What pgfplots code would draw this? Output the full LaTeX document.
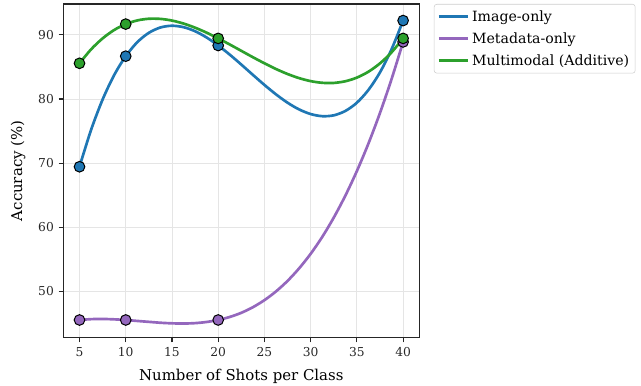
\documentclass[border=0pt]{standalone}
\usepackage{fontspec}
\setmainfont{DejaVu Serif}
\usepackage{pgfplots}
\pgfplotsset{compat=1.18}
\definecolor{tabblue}{HTML}{1F77B4}
\definecolor{tabpurple}{HTML}{9467BD}
\definecolor{tabgreen}{HTML}{2CA02C}

% marked results (shots, accuracy)
\pgfplotstableread{
x y
5 69.44
10 86.67
20 88.33
40 92.22
}\imgpts
\pgfplotstableread{
x y
5 45.56
10 45.56
20 45.56
40 88.89
}\metapts
\pgfplotstableread{
x y
5 85.56
10 91.67
20 89.44
40 89.44
}\multipts

% smooth curves as drawn in the chart, read along x
\pgfplotstableread{
x y
5 69.44
6.25 75.18
7.5 79.92
8.75 83.73
10 86.67
11.25 88.85
12.5 90.31
13.75 91.14
15 91.41
16.25 91.19
17.5 90.56
18.75 89.58
20 88.33
21.25 86.91
22.5 85.36
23.75 83.76
25 82.19
26.25 80.72
27.5 79.42
28.75 78.37
30 77.65
31.25 77.32
32.5 77.45
33.75 78.13
35 79.42
36.25 81.41
37.5 84.15
38.75 87.74
40 92.22
}\imgcurve
\pgfplotstableread{
x y
5 45.56
6.25 45.69
7.5 45.72
8.75 45.66
10 45.56
11.25 45.41
12.5 45.27
13.75 45.13
15 45.04
16.25 45.01
17.5 45.07
18.75 45.25
20 45.56
21.25 46.03
22.5 46.68
23.75 47.55
25 48.65
26.25 50.01
27.5 51.65
28.75 53.60
30 55.87
31.25 58.50
32.5 61.52
33.75 64.93
35 68.77
36.25 73.06
37.5 77.83
38.75 83.10
40 88.89
}\metacurve
\pgfplotstableread{
x y
5 85.56
6.25 87.73
7.5 89.44
8.75 90.75
10 91.67
11.25 92.24
12.5 92.50
13.75 92.48
15 92.22
16.25 91.75
17.5 91.11
18.75 90.33
20 89.44
21.25 88.49
22.5 87.50
23.75 86.51
25 85.56
26.25 84.67
27.5 83.89
28.75 83.25
30 82.78
31.25 82.52
32.5 82.50
33.75 82.76
35 83.33
36.25 84.25
37.5 85.55
38.75 87.27
40 89.44
}\multicurve

\begin{document}
\begin{tikzpicture}[x=1pt,y=1pt]
\path[use as bounding box] (-47.5,-35.5) rectangle (433.3,253.3);
\begin{axis}[
  at={(0,0)}, anchor=south west,
  scale only axis, width=267pt, height=250.3pt,
  xmin=3.25, xmax=41.75, ymin=42.8, ymax=94.8,
  xtick={5,10,15,20,25,30,35,40}, ytick={50,60,70,80,90},
  grid=major, grid style={black!10, line width=0.6pt},
  axis line style={black!85, line width=0.8pt},
  tick style={black!85, line width=0.8pt},
  tick align=outside, major tick length=3.6pt, tick pos=left,
  ticklabel style={font=\fontsize{9.2}{11}\selectfont, text=black!85},
  /pgf/number format/assume math mode=true,
  xlabel={Number of Shots per Class},
  ylabel={Accuracy (\%)},
  label style={font=\fontsize{11.2}{13}\selectfont},
  xlabel style={at={(axis description cs:0.5,-0.1147)}, anchor=center},
  ylabel style={at={(axis description cs:-0.127,0.5)}, anchor=center},
  legend style={at={(1.041,1.0)}, anchor=north west, draw=black!20,
    rounded corners=2pt, fill=white, font=\fontsize{10.6}{12}\selectfont,
    inner sep=2.5pt, row sep=3pt},
  legend cell align=left,
  legend image code/.code={\draw[#1, line width=2pt] (0pt,0pt) -- (22pt,0pt);},
]
\addplot[tabblue, line width=2pt, smooth, tension=0.5] table {\imgcurve};
\addlegendentry{Image-only}
\addplot[only marks, mark=*, mark size=4pt, mark options={fill=tabblue, draw=black, line width=0.75pt}, forget plot] table {\imgpts};
\addplot[tabpurple, line width=2pt, smooth, tension=0.5] table {\metacurve};
\addlegendentry{Metadata-only}
\addplot[only marks, mark=*, mark size=4pt, mark options={fill=tabpurple, draw=black, line width=0.75pt}, forget plot] table {\metapts};
\addplot[tabgreen, line width=2pt, smooth, tension=0.5] table {\multicurve};
\addlegendentry{Multimodal (Additive)}
\addplot[only marks, mark=*, mark size=4pt, mark options={fill=tabgreen, draw=black, line width=0.75pt}, forget plot] table {\multipts};
\end{axis}
\end{tikzpicture}
\end{document}
